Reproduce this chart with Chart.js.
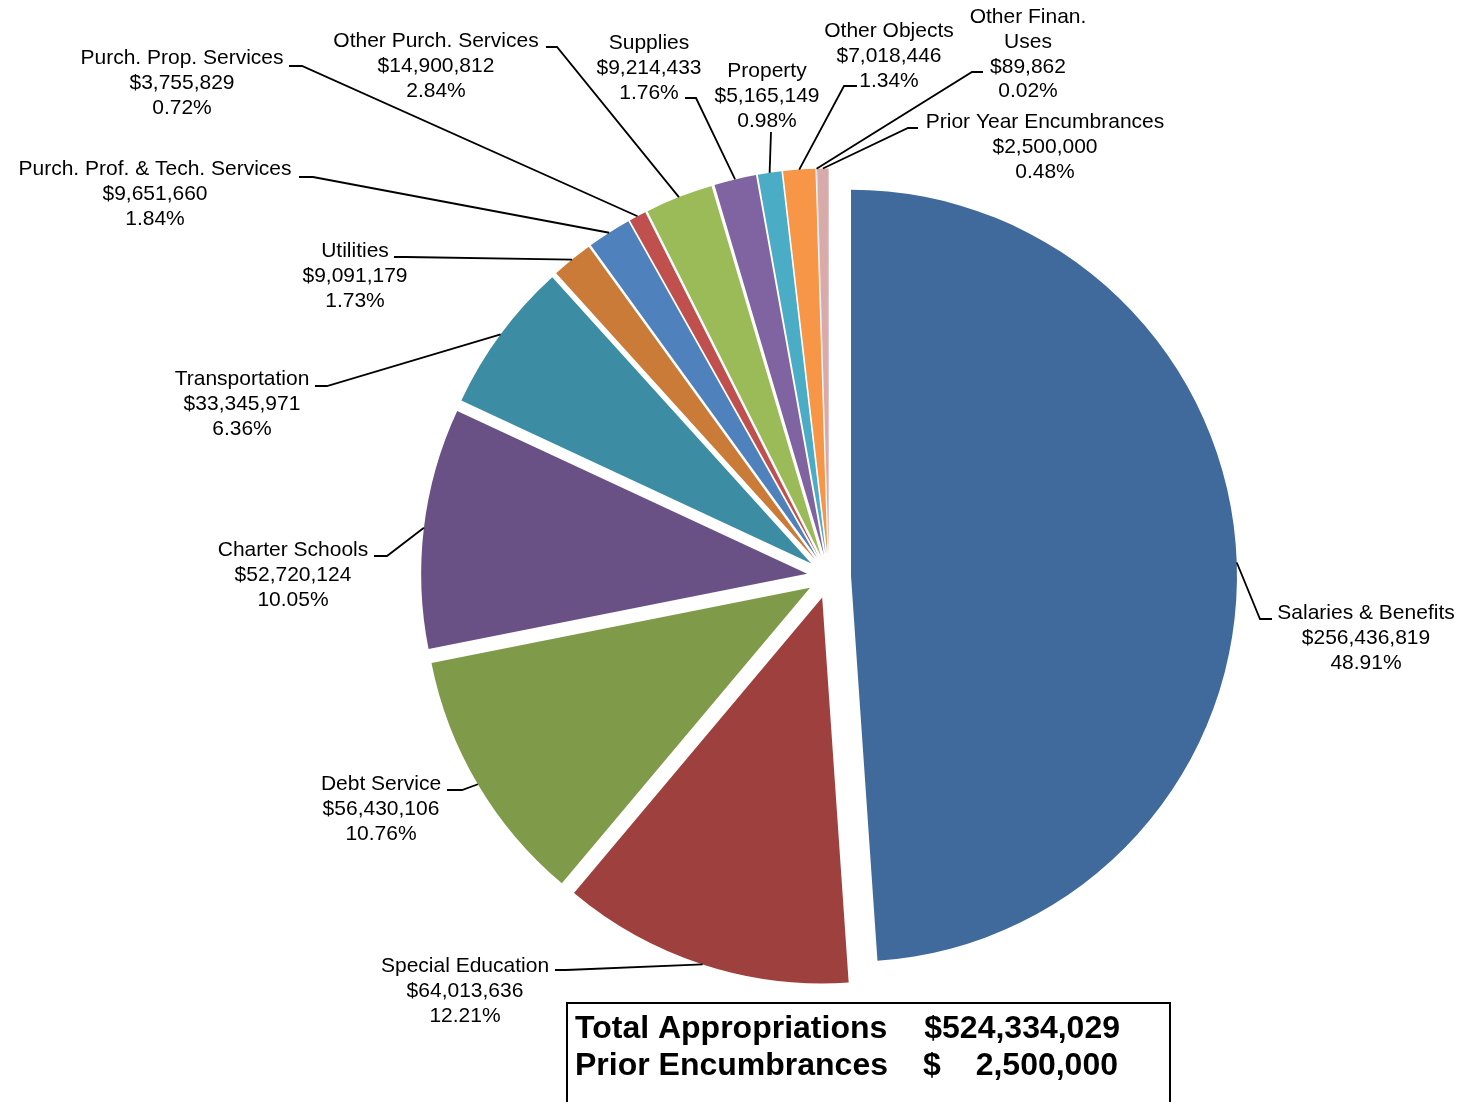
<!DOCTYPE html>
<html>
<head>
<meta charset="utf-8">
<title>Appropriations by Object</title>
<script src="https://cdn.jsdelivr.net/npm/chart.js@4/dist/chart.umd.min.js"></script>
<style>
  html, body { margin: 0; padding: 0; background: #fff; }
  #wrap { position: relative; width: 1460px; height: 1102px; overflow: hidden; background: #fff; }
  canvas { display: block; }
</style>
</head>
<body>
<div id="wrap"><canvas id="budgetPie" width="1460" height="1102"></canvas></div>
<script>
// Budget categories, clockwise from 12 o'clock
const categories = [
  'Salaries & Benefits',
  'Special Education',
  'Debt Service',
  'Charter Schools',
  'Transportation',
  'Utilities',
  'Purch. Prof. & Tech. Services',
  'Purch. Prop. Services',
  'Other Purch. Services',
  'Supplies',
  'Property',
  'Other Objects',
  'Other Finan.\nUses',
  'Prior Year Encumbrances'
];

// Appropriated amounts in dollars
const amounts = [
  256436819, 64013636, 56430106, 52720124, 33345971, 9091179, 9651660,
  3755829, 14900812, 9214433, 5165149, 7018446, 89862, 2500000
];

// Share of total as printed on each callout
const shareLabels = [
  '48.91%', '12.21%', '10.76%', '10.05%', '6.36%', '1.73%', '1.84%',
  '0.72%', '2.84%', '1.76%', '0.98%', '1.34%', '0.02%', '0.48%'
];

// Summary box figures
const summaryNames = ['Total Appropriations', 'Prior Encumbrances'];
const summaryAmounts = [524334029, 2500000];

const sliceColors = [
  '#416A9C', '#9E413E', '#7F9A48', '#695186', '#3C8CA3', '#CB7B38', '#4F81BD',
  '#C0504D', '#9BBB59', '#8064A2', '#4BACC6', '#F79646', '#A7BFDE', '#D9AAAA'
];

// Every slice is pulled out from the centre by this many pixels
const EXPLODE = 22;

// Callout text anchor (centre x, first line y) and leader elbow points
const calloutLayout = [
  { x: 1366, y: 613, knee: [1260, 619], tip: [1272, 619] },
  { x: 465,  y: 966, knee: [566, 970],  tip: [555, 970] },
  { x: 381,  y: 784, knee: [462, 790],  tip: [447, 790] },
  { x: 293,  y: 550, knee: [387, 556],  tip: [374, 556] },
  { x: 242,  y: 379, knee: [327, 386],  tip: [315, 386] },
  { x: 355,  y: 251, knee: [406, 257],  tip: [394, 257] },
  { x: 155,  y: 169, knee: [313, 177],  tip: [299, 177] },
  { x: 182,  y: 58,  knee: [302, 66],   tip: [289, 66] },
  { x: 436,  y: 41,  knee: [557, 47],   tip: [546, 47] },
  { x: 649,  y: 43,  knee: [696, 98],   tip: [685, 98] },
  { x: 767,  y: 71,  knee: [771, 132],  tip: [771, 132] },
  { x: 889,  y: 31,  knee: [844, 86],   tip: [857, 86] },
  { x: 1028, y: 17,  knee: [972, 72],   tip: [983, 72] },
  { x: 1045, y: 122, knee: [908, 128],  tip: [918, 128] }
];

const LABEL_FONT = '21px "Liberation Sans", Arial, sans-serif';
const LINE_STEP = 24.9;

const dollars = v => '$' + v.toLocaleString('en-US');

// Draw each arc shifted outward along its bisector (exploded pie)
const explodePlugin = {
  id: 'explode',
  beforeDatasetDraw(chart, args) {
    const ctx = chart.ctx;
    const meta = args.meta;
    meta.data.forEach(arc => {
      const mid = (arc.startAngle + arc.endAngle) / 2;
      ctx.save();
      ctx.translate(Math.cos(mid) * EXPLODE, Math.sin(mid) * EXPLODE);
      arc.draw(ctx, chart.chartArea);
      ctx.restore();
    });
    return false;
  }
};

// Callouts: leader line from each slice's outer edge plus three-line label
const calloutPlugin = {
  id: 'callouts',
  afterDatasetsDraw(chart) {
    const ctx = chart.ctx;
    const meta = chart.getDatasetMeta(0);
    ctx.save();
    ctx.strokeStyle = '#000';
    ctx.lineWidth = 1.8;
    meta.data.forEach((arc, i) => {
      const p = arc.getProps(['x', 'y', 'startAngle', 'endAngle', 'outerRadius'], true);
      const mid = (p.startAngle + p.endAngle) / 2;
      const ex = p.x + Math.cos(mid) * (p.outerRadius + EXPLODE);
      const ey = p.y + Math.sin(mid) * (p.outerRadius + EXPLODE);
      const lay = calloutLayout[i];
      ctx.beginPath();
      ctx.moveTo(ex, ey);
      ctx.lineTo(lay.knee[0], lay.knee[1]);
      ctx.lineTo(lay.tip[0], lay.tip[1]);
      ctx.stroke();

      const lines = categories[i].split('\n').concat([dollars(amounts[i]), shareLabels[i]]);
      ctx.fillStyle = '#000';
      ctx.font = LABEL_FONT;
      ctx.textAlign = 'center';
      ctx.textBaseline = 'middle';
      lines.forEach((t, k) => ctx.fillText(t, lay.x, lay.y + k * LINE_STEP));
    });
    ctx.restore();
  },
  afterDraw(chart) {
    // Summary box below the pie
    const ctx = chart.ctx;
    ctx.save();
    ctx.strokeStyle = '#000';
    ctx.lineWidth = 2;
    ctx.strokeRect(567, 1003, 603, 140);
    ctx.fillStyle = '#000';
    ctx.font = 'bold 32px "Liberation Sans", Arial, sans-serif';
    ctx.textBaseline = 'middle';
    const rows = [1029.5, 1066.5];
    summaryNames.forEach((name, k) => {
      ctx.textAlign = 'left';
      ctx.fillText(name, 575, rows[k]);
    });
    // first row: amount with currency sign attached
    ctx.textAlign = 'right';
    ctx.fillText(dollars(summaryAmounts[0]), 1120, rows[0]);
    // second row: accounting style, sign set apart
    ctx.textAlign = 'left';
    ctx.fillText('$', 923, rows[1]);
    ctx.textAlign = 'right';
    ctx.fillText(summaryAmounts[1].toLocaleString('en-US'), 1118, rows[1]);
    ctx.restore();
  }
};

new Chart(document.getElementById('budgetPie'), {
  type: 'pie',
  data: {
    labels: categories,
    datasets: [{
      data: amounts,
      backgroundColor: sliceColors,
      borderWidth: 0,
      offset: 0,
      radius: 386
    }]
  },
  options: {
    responsive: false,
    animation: false,
    radius: 386,
    layout: { padding: { left: 198, right: 0, top: 51, bottom: 0 } },
    plugins: {
      legend: { display: false },
      tooltip: { enabled: false },
      title: { display: false }
    }
  },
  plugins: [explodePlugin, calloutPlugin]
});
</script>
</body>
</html>
